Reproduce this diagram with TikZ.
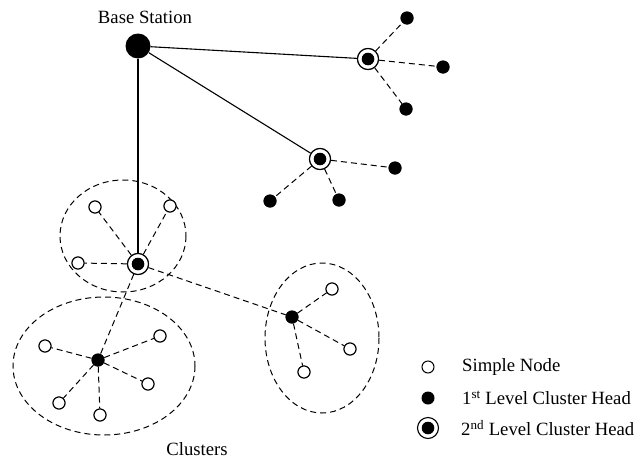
\documentclass[tikz,border=0pt]{standalone}
\usepackage{fontspec}
\setmainfont{Liberation Serif}
\begin{document}
\begin{tikzpicture}[x=1pt,y=-1pt,
  simple/.style={circle,draw,fill=white,line width=1pt,minimum size=12pt,inner sep=0pt},
  first/.style={circle,fill=black,minimum size=13pt,inner sep=0pt},
  second/.style={circle,draw,fill=white,line width=1.1pt,minimum size=21pt,inner sep=0pt,
     path picture={\fill[black] (path picture bounding box.center) circle (6.3pt);}},
  base/.style={circle,fill=black,minimum size=25pt,inner sep=0pt},
  link/.style={line width=1.1pt},
  dlink/.style={line width=1pt,dash pattern=on 6pt off 4pt},
  clus/.style={line width=1pt,dash pattern=on 6pt off 4pt},
  txt/.style={font=\fontsize{18.7}{20}\selectfont,inner sep=0pt}]
\useasboundingbox (0,0) rectangle (634,458);
% clusters
\draw[clus] (123,236) ellipse (63 and 56);
\draw[clus] (104,366) ellipse (91 and 69);
\draw[clus] (322,338) ellipse (57 and 75);
% node positions
\node[base] (bs) at (138,46) {};
\node[txt] (bslab) at (145,17) {Base Station};
\node[second] (a) at (368,59) {};
\node[first] (a1) at (407,18) {};
\node[first] (a2) at (443,67) {};
\node[first] (a3) at (406,109) {};
\node[second] (b) at (320,159) {};
\node[first] (b1) at (395,168) {};
\node[first] (b2) at (270,201) {};
\node[first] (b3) at (339,200) {};
\node[second] (c) at (138,264) {};
\node[simple] (c1) at (95,207) {};
\node[simple] (c2) at (170,206) {};
\node[simple] (c3) at (78,263) {};
\node[first] (d) at (98,360) {};
\node[simple] (d1) at (45,346) {};
\node[simple] (d2) at (160,336) {};
\node[simple] (d3) at (148,384) {};
\node[simple] (d4) at (59,403) {};
\node[simple] (d5) at (100,415) {};
\node[first] (e) at (292,317) {};
\node[simple] (e1) at (332,289) {};
\node[simple] (e2) at (350,349) {};
\node[simple] (e3) at (304,372) {};
\node[txt] (cl) at (197,449) {Clusters};
% connectors
\draw[link] (bs) -- (a);
\draw[link] (bs) -- (b);
\draw[link] (bs) -- (c);
\foreach \n in {a1,a2,a3} \draw[dlink] (a) -- (\n);
\foreach \n in {b1,b2,b3} \draw[dlink] (b) -- (\n);
\foreach \n in {c1,c2,c3,d,e} \draw[dlink] (c) -- (\n);
\foreach \n in {d1,d2,d3,d4,d5} \draw[dlink] (d) -- (\n);
\foreach \n in {e1,e2,e3} \draw[dlink] (e) -- (\n);
% redraw nodes on top
\foreach \n/\s in {a/second,b/second,c/second} \node[\s] at (\n) {};
\foreach \n in {c1,c2,c3,d1,d2,d3,d4,d5,e1,e2,e3} \node[simple] at (\n) {};
\foreach \n in {a1,a2,a3,b1,b2,b3,d,e} \node[first] at (\n) {};
% legend
\node[simple] (l1) at (428,367) {};
\node[first] (l2) at (428,398) {};
\node[second] (l3) at (428,428) {};
\node[txt,anchor=west] (t1) at (462,367) {Simple Node};
\node[txt,anchor=west] (t2) at (462,398) {1\textsuperscript{st} Level Cluster Head};
\node[txt,anchor=west] (t3) at (461,428) {2\textsuperscript{nd} Level Cluster Head};
\end{tikzpicture}
\end{document}
